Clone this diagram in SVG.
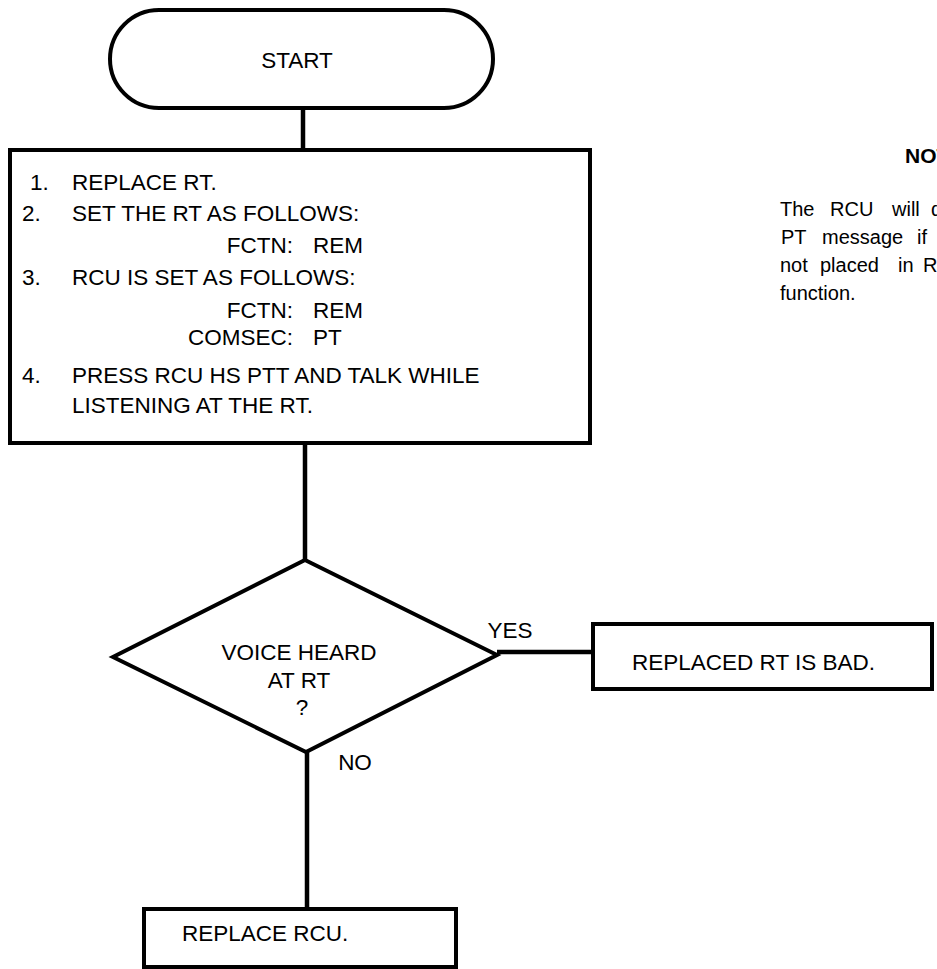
<svg xmlns="http://www.w3.org/2000/svg" width="937" height="969" viewBox="0 0 937 969">
<style>
.s{fill:#fff;stroke:#000;stroke-width:4}
.c{fill:none;stroke:#000;stroke-width:4.5}
.t{font-family:"Liberation Sans",Arial,Helvetica,sans-serif;font-size:22.5px;fill:#000}
.m{text-anchor:middle}
.e{text-anchor:end}
.n{font-family:"Liberation Sans",Arial,Helvetica,sans-serif;font-size:20px;fill:#000}
.b{font-weight:bold;font-size:21px}
</style>
<rect width="937" height="969" fill="#fff"/>
<g id="connectors">
<line class="c" x1="303" y1="108" x2="303" y2="150"/>
<line class="c" x1="305" y1="443" x2="305" y2="560"/>
<line class="c" x1="497" y1="652" x2="593" y2="652"/>
<line class="c" x1="307" y1="752" x2="307" y2="909"/>
</g>
<g id="start">
<rect class="s" x="110" y="10" width="383" height="98" rx="49" ry="49"/>
<text class="t m" x="297" y="68">START</text>
</g>
<g id="steps">
<rect class="s" x="10" y="150" width="580" height="293"/>
<text class="t" x="30" y="190">1.</text>
<text class="t" x="72" y="190">REPLACE RT.</text>
<text class="t" x="22" y="221">2.</text>
<text class="t" x="72" y="221">SET THE RT AS FOLLOWS:</text>
<text class="t e" x="293" y="253">FCTN:</text>
<text class="t" x="313" y="253">REM</text>
<text class="t" x="22" y="285">3.</text>
<text class="t" x="72" y="285">RCU IS SET AS FOLLOWS:</text>
<text class="t e" x="293" y="318">FCTN:</text>
<text class="t" x="313" y="318">REM</text>
<text class="t e" x="293" y="345">COMSEC:</text>
<text class="t" x="313" y="345">PT</text>
<text class="t" x="22" y="383">4.</text>
<text class="t" x="72" y="383">PRESS RCU HS PTT AND TALK WHILE</text>
<text class="t" x="72" y="413">LISTENING AT THE RT.</text>
</g>
<g id="decision">
<polygon class="s" points="305,560 497,655 306,752 113,657"/>
<text class="t m" x="299" y="660">VOICE HEARD</text>
<text class="t m" x="299" y="688">AT RT</text>
<text class="t m" x="302" y="715">?</text>
<text class="t m" x="510" y="638">YES</text>
<text class="t m" x="355" y="770">NO</text>
</g>
<g id="bad">
<rect class="s" x="593" y="624" width="339" height="65"/>
<text class="t" x="632" y="670">REPLACED RT IS BAD.</text>
</g>
<g id="rcu">
<rect class="s" x="144" y="909" width="312" height="58"/>
<text class="t" x="182" y="941">REPLACE RCU.</text>
</g>
<g id="note">
<text class="n b" x="905" y="163">NOTE</text>
<text class="n" y="216"><tspan x="780">The</tspan><tspan x="830">RCU</tspan><tspan x="892">will</tspan><tspan x="931">display</tspan></text>
<text class="n" y="244"><tspan x="781">PT</tspan><tspan x="822">message</tspan><tspan x="917">if</tspan></text>
<text class="n" y="272"><tspan x="780">not</tspan><tspan x="820">placed</tspan><tspan x="898">in</tspan><tspan x="923">REM</tspan></text>
<text class="n" x="780" y="300">function.</text>
</g>
</svg>
